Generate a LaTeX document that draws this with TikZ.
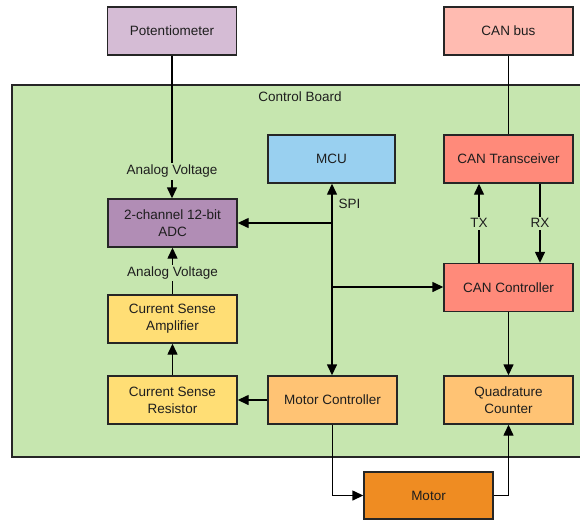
\documentclass[tikz,border=0pt]{standalone}
\usepackage{fontspec}
\setmainfont{Liberation Sans}
\usetikzlibrary{arrows.meta}
\definecolor{boardgreen}{RGB}{198,230,175}
\definecolor{potcol}{RGB}{213,188,213}
\definecolor{canbuscol}{RGB}{255,187,177}
\definecolor{mcucol}{RGB}{153,208,240}
\definecolor{adccol}{RGB}{177,141,181}
\definecolor{cancol}{RGB}{255,138,122}
\definecolor{senscol}{RGB}{255,222,117}
\definecolor{orcol}{RGB}{255,195,116}
\definecolor{motorcol}{RGB}{239,140,34}
\definecolor{txt}{RGB}{30,30,30}
\begin{document}
\begin{tikzpicture}[x=1pt,y=-1pt,
  font=\fontsize{13.5}{17}\selectfont,
  every node/.style={text=txt},
  blk/.style={draw=black!85, line width=1.4pt, minimum width=129pt, minimum height=48pt, align=center, inner sep=0pt},
  conn/.style={line width=1.4pt, draw=black},
  arr/.style={conn, -{Triangle[length=11pt,width=10pt]}},
  lbl/.style={fill=boardgreen, inner sep=2pt}]
\useasboundingbox (0,0) rectangle (580,520);
% board
\draw[fill=boardgreen, draw=black!85, line width=1.4pt] (12,85) rectangle (600,457);
\node (boardlbl) at (300,97) {Control Board};
% blocks
\node[blk, fill=potcol] (pot) at (172,31) {Potentiometer};
\node[blk, fill=canbuscol] (canbus) at (508.5,31) {CAN bus};
\node[blk, fill=mcucol, minimum width=127pt] (mcu) at (331.5,159) {MCU};
\node[blk, fill=adccol] (adc) at (172.5,223) {2-channel 12-bit\\ADC};
\node[blk, fill=cancol] (cantr) at (508.5,159) {CAN Transceiver};
\node[blk, fill=cancol] (canc) at (508.5,287.5) {CAN Controller};
\node[blk, fill=senscol] (amp) at (172.5,319) {Current Sense\\Amplifier};
\node[blk, fill=senscol] (res) at (172.5,400) {Current Sense\\Resistor};
\node[blk, fill=orcol] (mc) at (332.5,400) {Motor Controller};
\node[blk, fill=orcol] (quad) at (508.5,400) {Quadrature\\Counter};
\node[blk, fill=motorcol, minimum height=47pt] (motor) at (428.5,495.5) {Motor};
% connectors
\draw[arr] (pot.south) -- node[lbl, pos=0.81] (av1) {Analog Voltage} (pot.south |- adc.north);
\draw[conn] (canbus.south) -- (canbus.south |- cantr.north);
\coordinate (spiA) at (332,223);
\coordinate (spiB) at (332,287);
\draw[arr] (spiA) -- (mcu.south -| spiA) node[pos=0.5, right, inner sep=6pt] (spi) {SPI};
\draw[arr] (spiA) -- (mc.north -| spiA);
\draw[arr] (spiA) -- (adc.east |- spiA);
\draw[arr] (spiB) -- (canc.west |- spiB);
\coordinate (txx) at (479,0);
\coordinate (rxx) at (540,0);
\draw[arr] (canc.north -| txx) -- node[lbl, pos=0.5] (tx) {TX} (cantr.south -| txx);
\draw[arr] (cantr.south -| rxx) -- node[lbl, pos=0.5] (rx) {RX} (canc.north -| rxx);
\draw[arr] (canc.south) -- (quad.north);
\draw[arr] (mc.west) -- (res.east);
\draw[arr] (res.north) -- (amp.south);
\draw[arr] (amp.north) -- node[lbl, pos=0.46] (av2) {Analog Voltage} (adc.south);
\draw[arr] (mc.south) |- (motor.west);
\draw[arr] (motor.east) -| (quad.south);
\end{tikzpicture}
\end{document}
